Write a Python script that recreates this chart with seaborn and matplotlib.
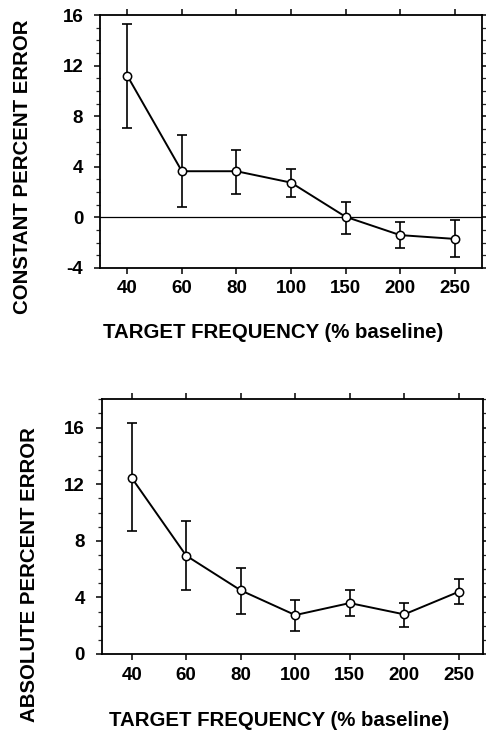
import matplotlib
matplotlib.use("Agg")
import matplotlib.pyplot as plt
import seaborn as sns
import pandas as pd
import numpy as np
from matplotlib.ticker import MultipleLocator

categories = ["40", "60", "80", "100", "150", "200", "250"]

# Constant percent error (top)
const_mean = [11.2, 3.65, 3.65, 2.75, 0.05, -1.4, -1.7]
const_upper = [15.3, 6.5, 5.3, 3.85, 1.25, -0.4, -0.2]
const_lower = [7.1, 0.8, 1.85, 1.6, -1.3, -2.45, -3.1]

# Absolute percent error (bottom)
abs_mean = [12.45, 6.95, 4.5, 2.75, 3.6, 2.8, 4.4]
abs_upper = [16.3, 9.4, 6.1, 3.85, 4.5, 3.6, 5.3]
abs_lower = [8.7, 4.55, 2.85, 1.65, 2.7, 1.9, 3.5]

sns.set_theme(style="ticks")
plt.rcParams["font.family"] = ["Liberation Sans", "DejaVu Sans"]
plt.rcParams["font.weight"] = "bold"
plt.rcParams["axes.unicode_minus"] = False

fig = plt.figure(figsize=(4.86, 7.36), dpi=100)
ax1 = fig.add_axes([100/486, 1-268/736, 382/486, 253/736])
ax2 = fig.add_axes([101.7/486, 1-654/736, 381.6/486, 254.7/736])


def draw(ax, mean, upper, lower, ylim, major, minor, xlim):
    df = pd.DataFrame({"freq": categories, "val": mean})
    x = np.arange(len(categories))
    m = np.array(mean)
    yerr = np.vstack([m - np.array(lower), np.array(upper) - m])
    ax.errorbar(x, m, yerr=yerr, fmt="none", ecolor="black", elinewidth=1.2,
                capsize=3.3, capthick=1.2, zorder=2)
    sns.lineplot(data=df, x="freq", y="val", ax=ax, color="black", linewidth=1.4,
                 marker="o", markersize=6, markerfacecolor="white",
                 markeredgecolor="black", markeredgewidth=1.1, sort=False, zorder=3)
    ax.set_xlim(*xlim)
    ax.set_ylim(*ylim)
    ax.yaxis.set_major_locator(MultipleLocator(major))
    ax.yaxis.set_minor_locator(MultipleLocator(minor))
    ax.set_xticks(x)
    ax.set_xticklabels(categories)
    ax.set_xlabel("")
    ax.set_ylabel("")
    for s in ax.spines.values():
        s.set_visible(True)
        s.set_linewidth(1.3)
        s.set_color("black")
    ax.tick_params(axis="both", which="major", direction="out", length=4, width=1.1,
                   labelsize=13.5, colors="black", top=True, right=True)
    ax.tick_params(axis="y", which="minor", direction="out", length=3, width=0.9,
                   left=True, right=True)
    ax.tick_params(axis="y", which="major", pad=8)
    ax.tick_params(axis="x", which="major", pad=5)
    for lab in ax.get_xticklabels() + ax.get_yticklabels():
        lab.set_fontweight("bold")


draw(ax1, const_mean, const_upper, const_lower, (-4, 16), 4, 1, (-0.5, 6.5))
ax1.axhline(0, color="black", linewidth=0.9, zorder=1)
draw(ax2, abs_mean, abs_upper, abs_lower, (0, 18), 4, 1, (-0.55, 6.45))
ax2.set_yticks([0, 4, 8, 12, 16])

xlab_kw = dict(fontsize=14.7, fontweight="bold", color="black")
ylab_kw = dict(fontsize=14.7, fontweight="bold", color="black")
fig.text(273/486, 1-333/736, "TARGET FREQUENCY (% baseline)", ha="center", va="center", **xlab_kw)
fig.text(23/486, 1-167/736, "CONSTANT PERCENT ERROR", ha="center", va="center", rotation=90, **ylab_kw)
fig.text(279/486, 1-720/736, "TARGET FREQUENCY (% baseline)", ha="center", va="center", **xlab_kw)
fig.text(30/486, 1-575/736, "ABSOLUTE PERCENT ERROR", ha="center", va="center", rotation=90, **ylab_kw)

fig.savefig("out.png", dpi=100, facecolor="white")
